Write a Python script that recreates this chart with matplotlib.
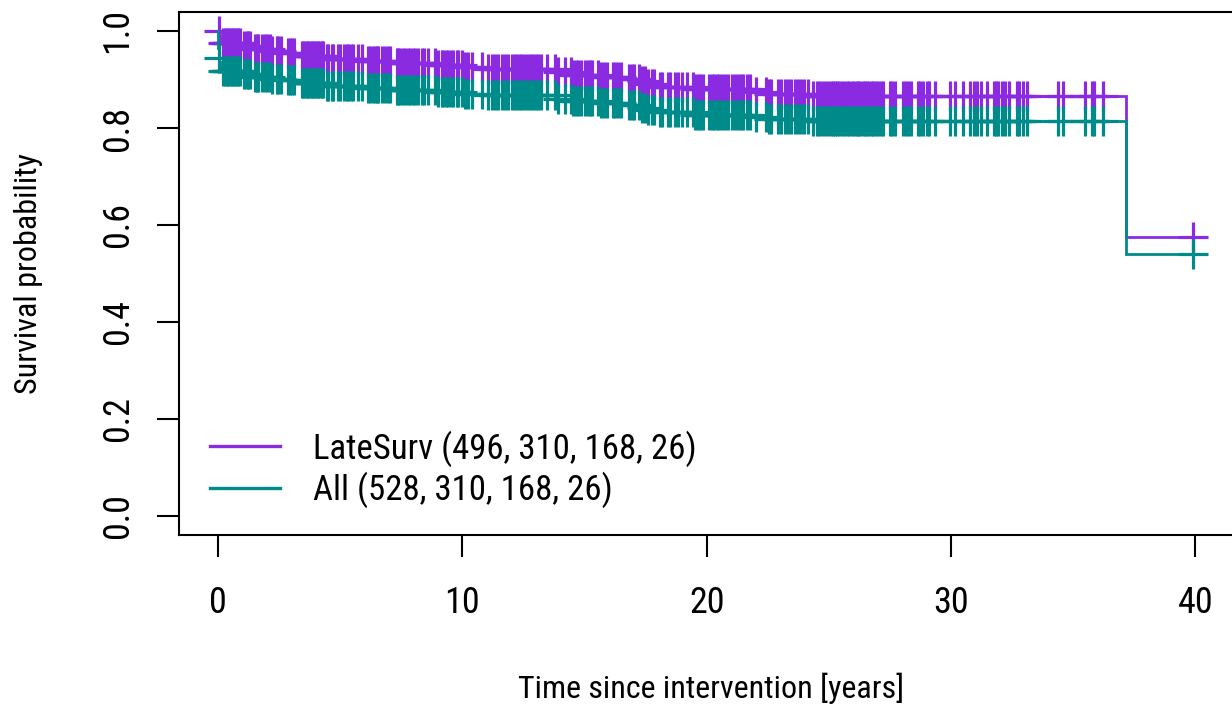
import numpy as np
import matplotlib
matplotlib.use("Agg")
import matplotlib.pyplot as plt
from matplotlib.lines import Line2D
from matplotlib import font_manager

# ---------------- data ----------------
late_times = [0.0, 0.08, 0.15, 0.97, 1.50, 2.20, 2.80, 3.40, 4.40, 6.00, 7.20, 8.90,
              10.00, 10.80, 13.80, 14.50, 15.60, 16.80, 17.30, 17.60, 18.00, 19.50,
              21.90, 22.50, 24.30, 37.16]
late_surv = [1.000, 0.985, 0.975, 0.969, 0.963, 0.959, 0.955, 0.949, 0.943, 0.939, 0.934, 0.930,
             0.926, 0.922, 0.915, 0.910, 0.906, 0.901, 0.896, 0.890, 0.885, 0.880,
             0.874, 0.871, 0.866, 0.575]

all_times = [0.0, 0.01, 0.03, 0.06, 0.08, 0.15, 0.97, 1.50, 2.20, 2.80, 3.40, 4.40, 6.00, 7.20, 8.90,
             10.00, 10.80, 13.80, 14.50, 15.60, 16.80, 17.30, 17.60, 18.00, 19.50,
             21.90, 22.50, 24.30, 37.16]
all_surv = [1.000, 0.965, 0.945, 0.935, 0.926, 0.917, 0.911, 0.905, 0.901, 0.898, 0.892, 0.886, 0.883, 0.878, 0.874,
            0.870, 0.867, 0.860, 0.855, 0.852, 0.847, 0.842, 0.837, 0.832, 0.827,
            0.822, 0.819, 0.814, 0.541]

censor_times = [
    0.04, 0.22, 0.29, 0.36, 0.42, 0.49, 0.56, 0.63, 0.70, 0.76, 0.83, 0.90,
    1.08, 1.17, 1.24, 1.31, 1.52, 1.58, 1.65, 1.79, 1.92, 1.99, 2.13, 2.20, 2.40, 2.47, 2.58,
    2.88, 2.95, 3.04, 3.13, 3.43, 3.49, 3.56, 3.63, 3.70, 3.77, 3.83, 3.90, 3.97, 4.04, 4.11,
    4.18, 4.24, 4.31, 4.45, 4.52, 4.65, 4.72, 4.90, 4.99, 5.17, 5.27, 5.34, 5.44, 5.54, 5.74,
    5.88, 6.15, 6.22, 6.36, 6.43, 6.50, 6.56, 6.70, 6.84, 6.95, 7.04, 7.31, 7.38, 7.45, 7.59,
    7.66, 7.79, 7.86, 8.00, 8.06, 8.20, 8.34, 8.45, 8.58, 8.88, 9.02, 9.16, 9.22, 9.32, 9.43,
    9.54, 9.63, 9.77, 9.84, 9.97, 10.11, 10.25, 10.38, 10.79, 11.07, 11.20, 11.34, 11.48,
    11.61, 11.75, 11.88, 12.02, 12.16,
    12.23, 12.36, 12.46, 12.57, 12.70, 12.81, 12.91, 13.00, 13.11, 13.22, 13.45, 13.79, 13.90,
    14.20, 14.45, 14.55, 14.64, 14.75, 14.86, 15.02, 15.13, 15.23, 15.32, 15.57, 15.68, 15.81,
    15.91, 16.18, 16.25, 16.39, 16.50, 16.82, 16.93, 17.04, 17.23, 17.34, 17.48, 17.61, 17.75,
    17.86, 18.09, 18.19, 18.41, 18.50, 18.71, 18.84, 18.98, 19.18, 19.46, 19.52, 19.63, 19.73,
    19.87, 20.10, 20.21, 20.32, 20.41, 20.51, 20.62, 20.75, 20.89, 21.03, 21.16, 21.27, 21.41,
    21.50, 21.64, 21.78, 22.01, 22.42, 22.55, 22.64, 22.94, 23.05, 23.21, 23.32, 23.45, 23.62,
    23.73, 23.86, 24.00, 24.14, 24.37, 24.50, 24.60, 24.71, 24.85, 24.98, 25.09,
    25.16, 25.26, 25.32, 25.43, 25.53, 25.63, 25.73, 25.84, 25.94, 26.03, 26.14, 26.21, 26.28,
    26.39, 26.48, 26.55, 26.66, 26.76, 26.82, 26.93, 27.03, 27.13, 27.23, 27.50, 27.57, 27.71,
    28.05, 28.16, 28.26, 28.35, 28.67, 28.73, 28.87, 29.01, 29.11, 29.35, 29.96, 30.17, 30.51,
    30.76, 30.95, 31.06, 31.22, 31.46, 31.74, 31.84, 31.94, 32.08, 32.21, 32.39, 32.69, 32.80,
    32.94, 33.10, 34.37, 34.57, 35.49, 35.76, 35.86, 36.21, 39.90]

series_labels = ["LateSurv (496, 310, 168, 26)", "All (528, 310, 168, 26)"]
series_colors = ["#8A2BE2", "#008B8B"]
x_ticks = [0, 10, 20, 30, 40]
y_ticks = [0.0, 0.2, 0.4, 0.6, 0.8, 1.0]
x_label = "Time since intervention [years]"
y_label = "Survival probability"

# ---------------- font choice ----------------
available = {f.name for f in font_manager.fontManager.ttflist}
narrow = [n for n in ['Liberation Sans Narrow', 'Roboto Condensed', 'Open Sans Condensed']
          if n in available]
if narrow:
    plt.rcParams['font.family'] = [narrow[0], 'DejaVu Sans']
    FS, FS_LEG, FS_LAB = 26.0, 25.0, 23.0
else:
    plt.rcParams['font.family'] = ['Liberation Sans', 'DejaVu Sans']
    FS, FS_LEG, FS_LAB = 22.5, 22.5, 21.0
px = 100 / 72.0  # pixels per point

# ---------------- figure ----------------
W, H = 1232, 709
fig = plt.figure(figsize=(W / 100, H / 100), dpi=100)
ax = fig.add_axes([0.1452, 0.2449, 0.8647, 0.7388])
ax.set_xlim(-1.6, 42.0)
ax.set_ylim(-0.04, 1.04)

LW = 2.0
ct = np.asarray(censor_times)
end_time = ct.max()


def draw_km(times, surv, color):
    t = np.asarray(times)
    s = np.asarray(surv)
    tx = np.append(t, end_time)
    sx = np.append(s, s[-1])
    ax.step(tx, sx, where='post', color=color, lw=LW, solid_joinstyle='miter', zorder=2)
    idx = np.searchsorted(t, ct, side='right') - 1
    ax.plot(ct, s[idx], linestyle='none', marker='+', markersize=21, markeredgewidth=2.3,
            color=color, zorder=2)


draw_km(late_times, late_surv, series_colors[0])
draw_km(all_times, all_surv, series_colors[1])

# axes styling (R base look)
for sp in ax.spines.values():
    sp.set_linewidth(1.5)
    sp.set_color('black')
ax.set_xticks(x_ticks)
ax.set_xticklabels([str(v) for v in x_ticks])
ax.set_yticks(y_ticks)
ax.set_yticklabels([f"{v:.1f}" for v in y_ticks], rotation=90, va='center')
ax.tick_params(axis='both', length=15.8, width=1.5, labelsize=FS, direction='out')
S = FS * px
ax.tick_params(axis='x', pad=(604 - 0.547 * S - 557) / px)
ax.tick_params(axis='y', pad=(157 - 115 - 0.358 * S - 0.212 * S) / px)

ax.set_xlabel(x_label, fontsize=FS_LAB)
ax.xaxis.set_label_coords(0.5, -0.263)
ax.set_ylabel(y_label, fontsize=FS_LAB)
ax.yaxis.set_label_coords(-0.128, 0.5)

SL = FS_LEG * px
handles = [Line2D([0], [0], color=c, lw=2.4) for c in series_colors]
ax.legend(handles, series_labels, loc='lower left', bbox_to_anchor=(0.0292, 0.052),
          frameon=False, fontsize=FS_LEG, handlelength=70 / SL, handletextpad=33 / SL,
          labelspacing=(45 - 1.15 * SL) / SL, borderpad=0, borderaxespad=0)

fig.savefig("out.png", dpi=100)
